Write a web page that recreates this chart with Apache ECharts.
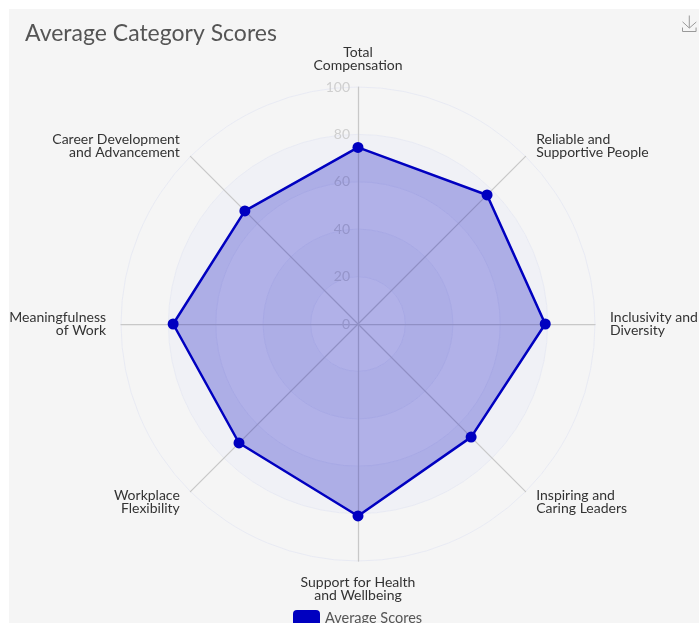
<!DOCTYPE html>
<html>
<head>
<meta charset="utf-8">
<script src="https://cdn.jsdelivr.net/npm/echarts@6/dist/echarts.min.js"></script>
<style>
  html, body { margin: 0; padding: 0; background: #fff; }
  #panel { position: absolute; left: 9px; top: 9px; width: 690px; height: 614px; background: #f5f5f5; }
  #chart { position: absolute; left: 0; top: 0; width: 699px; height: 623px; }
</style>
</head>
<body>
<div id="panel"></div>
<div id="chart"></div>
<script>
const categories = [
  'Total\nCompensation',
  'Career Development\nand Advancement',
  'Meaningfulness\nof Work',
  'Workplace\nFlexibility',
  'Support for Health\nand Wellbeing',
  'Inspiring and\nCaring Leaders',
  'Inclusivity and\nDiversity',
  'Reliable and\nSupportive People'
]
const averageScores = [74.5, 67.5, 78, 71, 81, 67.5, 79, 77]
const axisMax = 100
const seriesName = 'Average Scores'
const FONT = 'Lato, "Open Sans", sans-serif'

const chart = echarts.init(document.getElementById('chart'), null, { renderer: 'canvas' })
chart.setOption({
  animation: false,
  backgroundColor: 'transparent',
  title: {
    text: 'Average Category Scores',
    left: 20,
    top: 17,
    textStyle: { fontFamily: FONT, fontSize: 23, fontWeight: 'normal', color: '#555' }
  },
  toolbox: {
    left: 665,
    top: -2,
    itemSize: 16,
    feature: { saveAsImage: { title: '' } },
    iconStyle: { borderColor: '#999' }
  },
  legend: {
    data: [seriesName],
    top: 605,
    left: 288,
    icon: 'roundRect',
    itemWidth: 27,
    itemHeight: 16,
    itemGap: 5,
    textStyle: { fontFamily: FONT, fontSize: 14.5, color: '#555' }
  },
  radar: {
    center: [358, 324],
    radius: 237,
    startAngle: 90,
    splitNumber: 5,
    shape: 'circle',
    nameGap: 15,
    // only the first spoke carries the 0-100 labels
    indicator: categories.map((name, i) => ({ name, min: 0, max: axisMax, axisLabel: { show: i === 0 } })),
    axisName: { fontFamily: FONT, fontSize: 14, lineHeight: 13, color: '#333' },
    axisLine: { lineStyle: { color: '#c8c8c8', width: 1.25 } },
    axisTick: { show: false },
    axisLabel: { color: '#cfcfcf', fontFamily: FONT, fontSize: 14, margin: 8, showMinLabel: true },
    splitLine: { lineStyle: { color: '#e8eaf3', width: 1 } },
    splitArea: { show: true, areaStyle: { color: ['#f5f5f8', '#f0f1f6', '#f5f5f8', '#f0f1f6', '#f5f5f5'] } }
  },
  series: [{
    name: seriesName,
    type: 'radar',
    symbol: 'circle',
    symbolSize: 11,
    itemStyle: { color: '#0000c0' },
    lineStyle: { color: '#0000c0', width: 2.5 },
    areaStyle: { color: '#0000c0', opacity: 0.28 },
    data: [{ value: averageScores, name: seriesName }]
  }]
})
</script>
</body>
</html>
